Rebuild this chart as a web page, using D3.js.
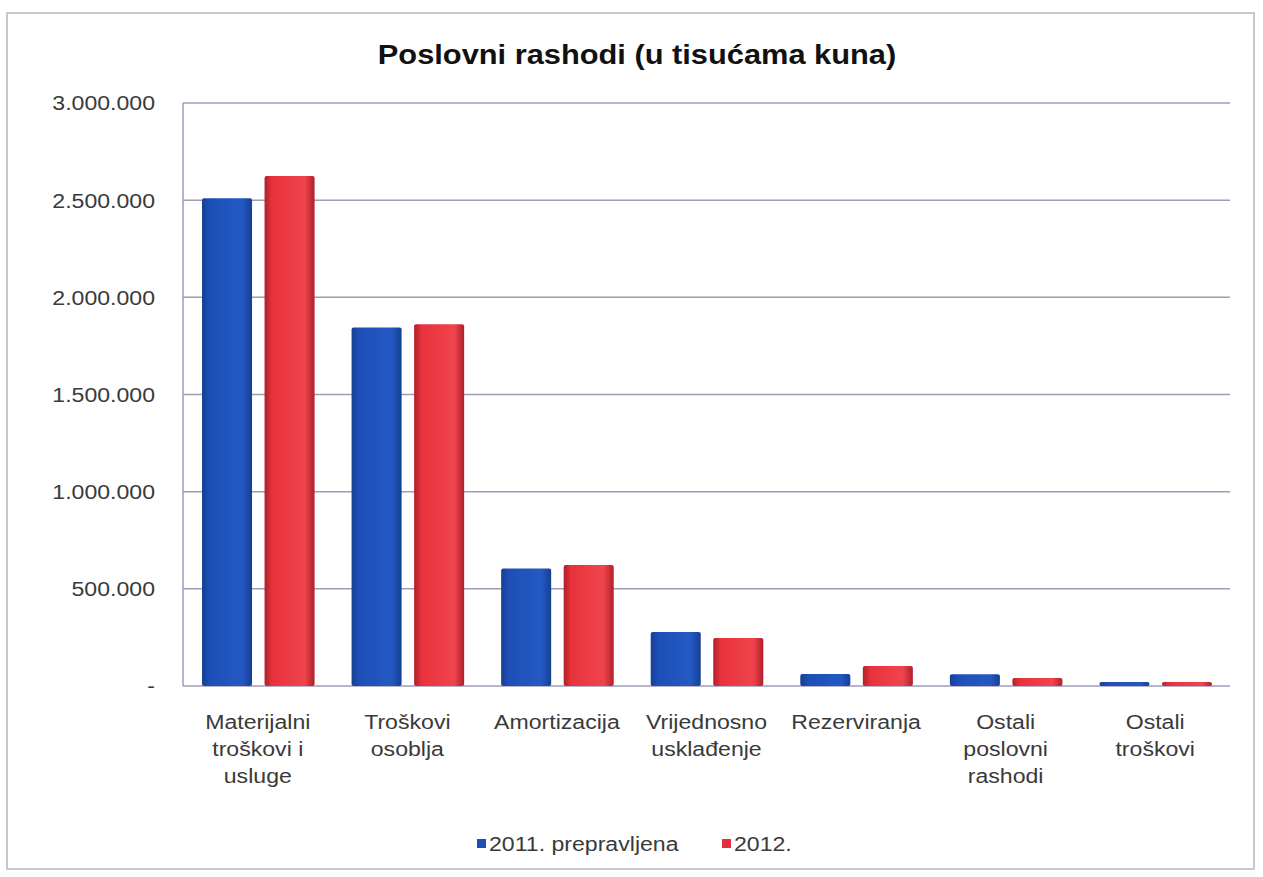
<!DOCTYPE html>
<meta charset="utf-8">
<style>
body { margin: 0; background: #fff; }
text { font-family: "Liberation Sans", Arial, sans-serif; fill: #3a3a3a; }
.grid line { stroke: #a09cb8; stroke-width: 1.5; }
</style>
<body>
<script src="https://d3js.org/d3.v7.min.js"></script>
<script>
// data (thousands of kuna)
var categories = [
  ["Materijalni", "troškovi i", "usluge"],
  ["Troškovi", "osoblja"],
  ["Amortizacija"],
  ["Vrijednosno", "usklađenje"],
  ["Rezerviranja"],
  ["Ostali", "poslovni", "rashodi"],
  ["Ostali", "troškovi"]
];
var series2011 = [2510000, 1845000, 605000, 278000, 62000, 60000, 21000];
var series2012 = [2625000, 1862000, 622000, 247000, 103000, 41000, 21000];
var seriesNames = ["2011. prepravljena", "2012."];
var yTicks = [0, 500000, 1000000, 1500000, 2000000, 2500000, 3000000];

var W = 1263, H = 877;
var stretch = 1.1; // the scanned text looks a bit wide
var svg = d3.select("body").append("svg").attr("width", W).attr("height", H);

var defs = svg.append("defs");
function grad(id, dark, mid, light) {
  var g = defs.append("linearGradient").attr("id", id).attr("x1", 0).attr("x2", 1).attr("y1", 0).attr("y2", 0);
  g.append("stop").attr("offset", "0%").attr("stop-color", dark);
  g.append("stop").attr("offset", "15%").attr("stop-color", mid);
  g.append("stop").attr("offset", "80%").attr("stop-color", light);
  g.append("stop").attr("offset", "100%").attr("stop-color", dark);
}
grad("gBlue", "#173f93", "#1d4fb6", "#2459c4");
grad("gRed", "#b0202a", "#e8323c", "#f0444c");

// chart frame
svg.append("rect").attr("x", 7).attr("y", 13).attr("width", 1247).attr("height", 856)
  .attr("fill", "#fff").attr("stroke", "#c8c8cc").attr("stroke-width", 2);

var plotLeft = 183, plotRight = 1230, plotTop = 103, plotBottom = 686;

var y = d3.scaleLinear().domain([0, 3000000]).range([plotBottom, plotTop]);
var x0 = d3.scaleBand().domain(d3.range(categories.length)).range([plotLeft, plotRight]);
var x1 = d3.scaleBand().domain([0, 1]).range([19, x0.bandwidth() - 18]).paddingInner(0.2);

function at(x, yy) { return "translate(" + x + "," + yy + ") scale(" + stretch + ",1)"; }

// grid
svg.append("g").attr("class", "grid")
  .selectAll("line").data(yTicks).join("line")
  .attr("x1", plotLeft).attr("x2", plotRight)
  .attr("y1", function(d) { return y(d); }).attr("y2", function(d) { return y(d); });

// y axis line
svg.append("line").attr("x1", plotLeft).attr("x2", plotLeft).attr("y1", plotTop).attr("y2", plotBottom)
  .attr("stroke", "#a09cb8").attr("stroke-width", 1.5);

var fmt = function(d) {
  if (d === 0) return "-";
  return d3.format(",")(d).replace(/,/g, ".");
};
svg.append("g").selectAll("text").data(yTicks).join("text")
  .attr("transform", function(d) { return at(155, y(d)); })
  .attr("dy", "0.35em")
  .attr("text-anchor", "end").style("font-size", "21px")
  .text(fmt);

// bars
var groups = svg.append("g").selectAll("g").data(categories).join("g")
  .attr("transform", function(d, i) { return "translate(" + x0(i) + ",0)"; });

groups.selectAll("rect").data(function(d, i) { return [series2011[i], series2012[i]]; }).join("rect")
  .attr("x", function(d, j) { return x1(j); })
  .attr("width", x1.bandwidth())
  .attr("y", function(d) { return y(d); })
  .attr("height", function(d) { return plotBottom - y(d); })
  .attr("rx", 2)
  .attr("fill", function(d, j) { return j === 0 ? "url(#gBlue)" : "url(#gRed)"; });

// category labels
groups.append("text")
  .attr("transform", at(x0.bandwidth() / 2, 722))
  .attr("text-anchor", "middle").style("font-size", "21px")
  .selectAll("tspan").data(function(d) { return d; }).join("tspan")
  .attr("x", 0)
  .attr("dy", function(d, i) { return i === 0 ? "0.35em" : 27; })
  .text(function(d) { return d; });

// title
svg.append("text").attr("transform", at(637, 64)).attr("text-anchor", "middle")
  .style("font-size", "28px").style("font-weight", "bold").style("fill", "#111")
  .text("Poslovni rashodi (u tisućama kuna)");

// legend
var legendX = [477, 722];
var colors = ["#1d4fb6", "#e03040"];
var lg = svg.append("g").selectAll("g").data(seriesNames).join("g")
  .attr("transform", function(d, i) { return "translate(" + legendX[i] + ",844)"; });
lg.append("rect").attr("x", 0).attr("y", -5).attr("width", 9).attr("height", 9)
  .attr("fill", function(d, i) { return colors[i]; });
lg.append("text").attr("transform", at(12, 0)).attr("dy", "0.35em").style("font-size", "21px")
  .text(function(d) { return d; });
</script>
</body>
